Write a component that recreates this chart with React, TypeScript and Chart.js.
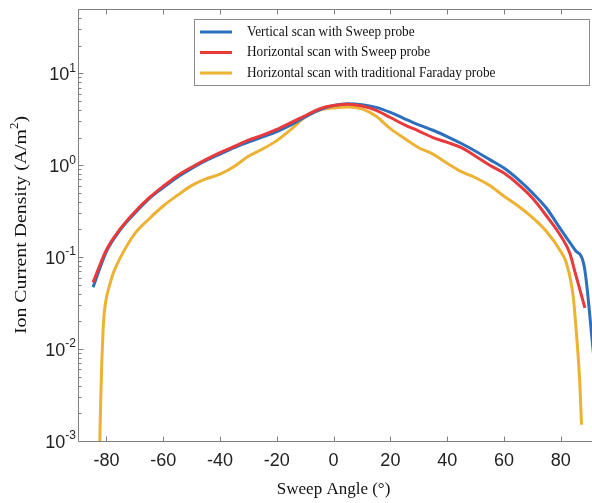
import React, { useEffect, useRef } from "react";
import { Chart, registerables } from "chart.js";
Chart.register(...registerables);

// ---------- data ----------
const blueAngles = [-84.7, -80, -75, -70, -65, -60, -55, -50, -45, -40, -35, -30, -25, -20, -15, -10, -5, 0, 5, 10, 15, 20, 25, 30, 35, 40, 45, 50, 55, 60, 65, 70, 75, 80, 85, 88.3, 91.5];
const blueValues = [0.047, 0.115, 0.2, 0.3, 0.43, 0.57, 0.74, 0.92, 1.12, 1.32, 1.55, 1.78, 2.03, 2.32, 2.75, 3.35, 4.0, 4.45, 4.65, 4.55, 4.25, 3.75, 3.2, 2.75, 2.4, 2.05, 1.72, 1.42, 1.15, 0.93, 0.7, 0.5, 0.34, 0.2, 0.12, 0.078, 0.009];

const redAngles = [-84.7, -80, -75, -70, -65, -60, -55, -50, -45, -40, -35, -30, -25, -20, -15, -10, -5, 0, 5, 10, 15, 20, 25, 30, 35, 40, 45, 50, 55, 60, 65, 70, 75, 80, 83.2, 85, 88.5];
const redValues = [0.053, 0.12, 0.205, 0.31, 0.44, 0.59, 0.77, 0.95, 1.15, 1.37, 1.6, 1.87, 2.12, 2.45, 2.9, 3.45, 4.1, 4.45, 4.6, 4.4, 3.95, 3.3, 2.75, 2.35, 2.0, 1.77, 1.55, 1.25, 1.0, 0.82, 0.62, 0.44, 0.28, 0.17, 0.11, 0.069, 0.028];

const yellowAngles = [-82.35, -82.0, -81.6, -81.2, -80.8, -80.0, -79.0, -77.5, -75, -70, -65, -60, -55, -50, -45, -40, -35, -30, -25, -20, -15, -10, -5, 0, 5, 10, 15, 20, 25, 30, 35, 40, 45, 50, 55, 60, 65, 70, 75, 80, 82, 84.4, 85.5, 86.7, 87.3];
const yellowValues = [0.0009, 0.0028, 0.0075, 0.015, 0.024, 0.036, 0.048, 0.068, 0.1, 0.18, 0.26, 0.36, 0.47, 0.6, 0.71, 0.8, 0.97, 1.25, 1.5, 1.85, 2.45, 3.35, 3.95, 4.2, 4.3, 4.1, 3.4, 2.5, 1.95, 1.55, 1.32, 1.05, 0.85, 0.73, 0.6, 0.46, 0.36, 0.27, 0.19, 0.115, 0.086, 0.037, 0.015, 0.0043, 0.0015];

const seriesLabels = [
  "Vertical scan with Sweep probe",
  "Horizontal scan with Sweep probe",
  "Horizontal scan with traditional Faraday probe",
];
const seriesColors = ["#2d6fbd", "#e8393b", "#edb234"];

const xTicks = [-80, -60, -40, -20, 0, 20, 40, 60, 80];
const yExponents = [-3, -2, -1, 0, 1];
const xTitle = "Sweep Angle (°)";
const yTitleMain = "Ion Current Density (A/m";
const yTitleSup = "2";
const yTitleEnd = ")";

const X_MIN = -90;
const X_MAX = 91;
const Y_MIN = 0.001;
const Y_MAX = 50;

const SANS = '"Liberation Sans", Arial, Helvetica, sans-serif';
const SERIF = '"Liberation Serif", "Times New Roman", serif';

const toPoints = (xs: number[], ys: number[]) => xs.map((x, i) => ({ x, y: ys[i] }));

const framePlugin = {
  id: "frameDecor",
  afterDraw(chart: any) {
    const { ctx, chartArea: a, scales } = chart;
    const x = scales.x;
    const y = scales.y;
    ctx.save();
    // axes lines
    ctx.strokeStyle = "#808080";
    ctx.lineWidth = 1;
    const L = Math.round(a.left) + 0.5;
    const B = Math.round(a.bottom) + 0.5;
    const T = Math.round(a.top) + 0.5;
    ctx.beginPath();
    ctx.moveTo(L, T);
    ctx.lineTo(L, B);
    ctx.lineTo(a.right + 2, B);
    ctx.moveTo(L, T);
    ctx.lineTo(a.right + 2, T);
    ctx.stroke();

    // x ticks (bottom & top, inward)
    ctx.beginPath();
    for (const t of xTicks) {
      const px = Math.round(x.getPixelForValue(t)) + 0.5;
      ctx.moveTo(px, B);
      ctx.lineTo(px, B - 5);
      ctx.moveTo(px, T);
      ctx.lineTo(px, T + 5);
    }
    // y ticks major/minor
    for (let e = -3; e <= 1; e++) {
      for (let m = 1; m <= 9; m++) {
        const v = m * Math.pow(10, e);
        if (v > Y_MAX * 1.0001) break;
        const py = Math.round(y.getPixelForValue(v)) + 0.5;
        const len = m === 1 ? 5 : 3;
        ctx.moveTo(L, py);
        ctx.lineTo(L + len, py);
      }
    }
    ctx.stroke();

    // x tick labels
    ctx.fillStyle = "#222";
    ctx.font = `18px ${SANS}`;
    ctx.textAlign = "center";
    ctx.textBaseline = "middle";
    for (const t of xTicks) {
      ctx.fillText(String(t), x.getPixelForValue(t), 461);
    }

    // y tick labels 10^e
    for (const e of yExponents) {
      const py = y.getPixelForValue(Math.pow(10, e));
      const expStr = String(e);
      ctx.font = `12px ${SANS}`;
      const ew = ctx.measureText(expStr).width;
      const right = 76;
      ctx.textAlign = "left";
      ctx.textBaseline = "middle";
      ctx.fillText(expStr, right - ew, py - 5);
      ctx.font = `18px ${SANS}`;
      ctx.textAlign = "right";
      ctx.fillText("10", right - ew, py + 2);
    }

    // x title
    ctx.fillStyle = "#111";
    ctx.font = `17px ${SERIF}`;
    ctx.textAlign = "center";
    ctx.textBaseline = "middle";
    ctx.fillText(xTitle, x.getPixelForValue(0), 490);

    // y title (rotated, with superscript)
    ctx.save();
    ctx.translate(21, (a.top + a.bottom) / 2);
    ctx.rotate(-Math.PI / 2);
    ctx.font = `17.5px ${SERIF}`;
    const w1 = ctx.measureText(yTitleMain).width;
    const w3 = ctx.measureText(yTitleEnd).width;
    ctx.font = `11.5px ${SERIF}`;
    const w2 = ctx.measureText(yTitleSup).width;
    const total = w1 + w2 + w3;
    const stretch = 218 / total;
    ctx.scale(stretch, 1);
    let cx = -total / 2;
    ctx.textAlign = "left";
    ctx.textBaseline = "middle";
    ctx.font = `17.5px ${SERIF}`;
    ctx.fillText(yTitleMain, cx, 0);
    cx += w1;
    ctx.font = `11.5px ${SERIF}`;
    ctx.fillText(yTitleSup, cx, -6);
    cx += w2;
    ctx.font = `17.5px ${SERIF}`;
    ctx.fillText(yTitleEnd, cx, 0);
    ctx.restore();

    // legend box
    const lx = 194.5, ly = 19.5, lw = 395, lh = 66;
    ctx.fillStyle = "#ffffff";
    ctx.fillRect(lx, ly, lw, lh);
    ctx.strokeStyle = "#8a8a8a";
    ctx.lineWidth = 1;
    ctx.strokeRect(lx, ly, lw, lh);
    seriesLabels.forEach((lab, i) => {
      const yy = 32 + i * 20.5;
      ctx.strokeStyle = seriesColors[i];
      ctx.lineWidth = 3;
      ctx.beginPath();
      ctx.moveTo(200, yy);
      ctx.lineTo(232, yy);
      ctx.stroke();
      ctx.save();
      ctx.translate(247, yy);
      ctx.scale(1, 1.12);
      ctx.font = `13.3px ${SERIF}`;
      ctx.textAlign = "left";
      ctx.textBaseline = "middle";
      ctx.fillStyle = "#111";
      ctx.fillText(lab, 0, 0);
      ctx.restore();
    });
    ctx.restore();
  },
};

export default function App() {
  const ref = useRef<HTMLCanvasElement | null>(null);
  useEffect(() => {
    document.body.style.margin = "0";
    document.body.style.overflow = "hidden";
    const canvas = ref.current;
    if (!canvas) return;
    const common = {
      fill: false,
      pointRadius: 0,
      borderWidth: 3,
      cubicInterpolationMode: "monotone" as const,
      clip: 0,
    };
    const chart = new Chart(canvas, {
      type: "line",
      data: {
        datasets: [
          { ...common, label: seriesLabels[0], data: toPoints(blueAngles, blueValues), borderColor: seriesColors[0], order: 1 },
          { ...common, label: seriesLabels[1], data: toPoints(redAngles, redValues), borderColor: seriesColors[1], order: 0 },
          { ...common, label: seriesLabels[2], data: toPoints(yellowAngles, yellowValues), borderColor: seriesColors[2], order: 2 },
        ],
      },
      options: {
        responsive: false,
        animation: false,
        devicePixelRatio: 1,
        layout: { padding: { top: 9, right: 0, left: 0, bottom: 0 } },
        plugins: { legend: { display: false }, tooltip: { enabled: false } },
        scales: {
          x: {
            type: "linear",
            min: X_MIN,
            max: X_MAX,
            ticks: { display: false },
            grid: { display: false },
            border: { display: false },
            afterFit: (s: any) => { s.height = 62; },
          },
          y: {
            type: "logarithmic",
            min: Y_MIN,
            max: Y_MAX,
            ticks: { display: false },
            grid: { display: false },
            border: { display: false },
            afterFit: (s: any) => { s.width = 78; },
          },
        },
      },
      plugins: [framePlugin],
    });
    return () => chart.destroy();
  }, []);
  return (
    <div style={{ width: 592, height: 503, background: "#fff" }}>
      <canvas ref={ref} width={592} height={503} style={{ display: "block" }} />
    </div>
  );
}
